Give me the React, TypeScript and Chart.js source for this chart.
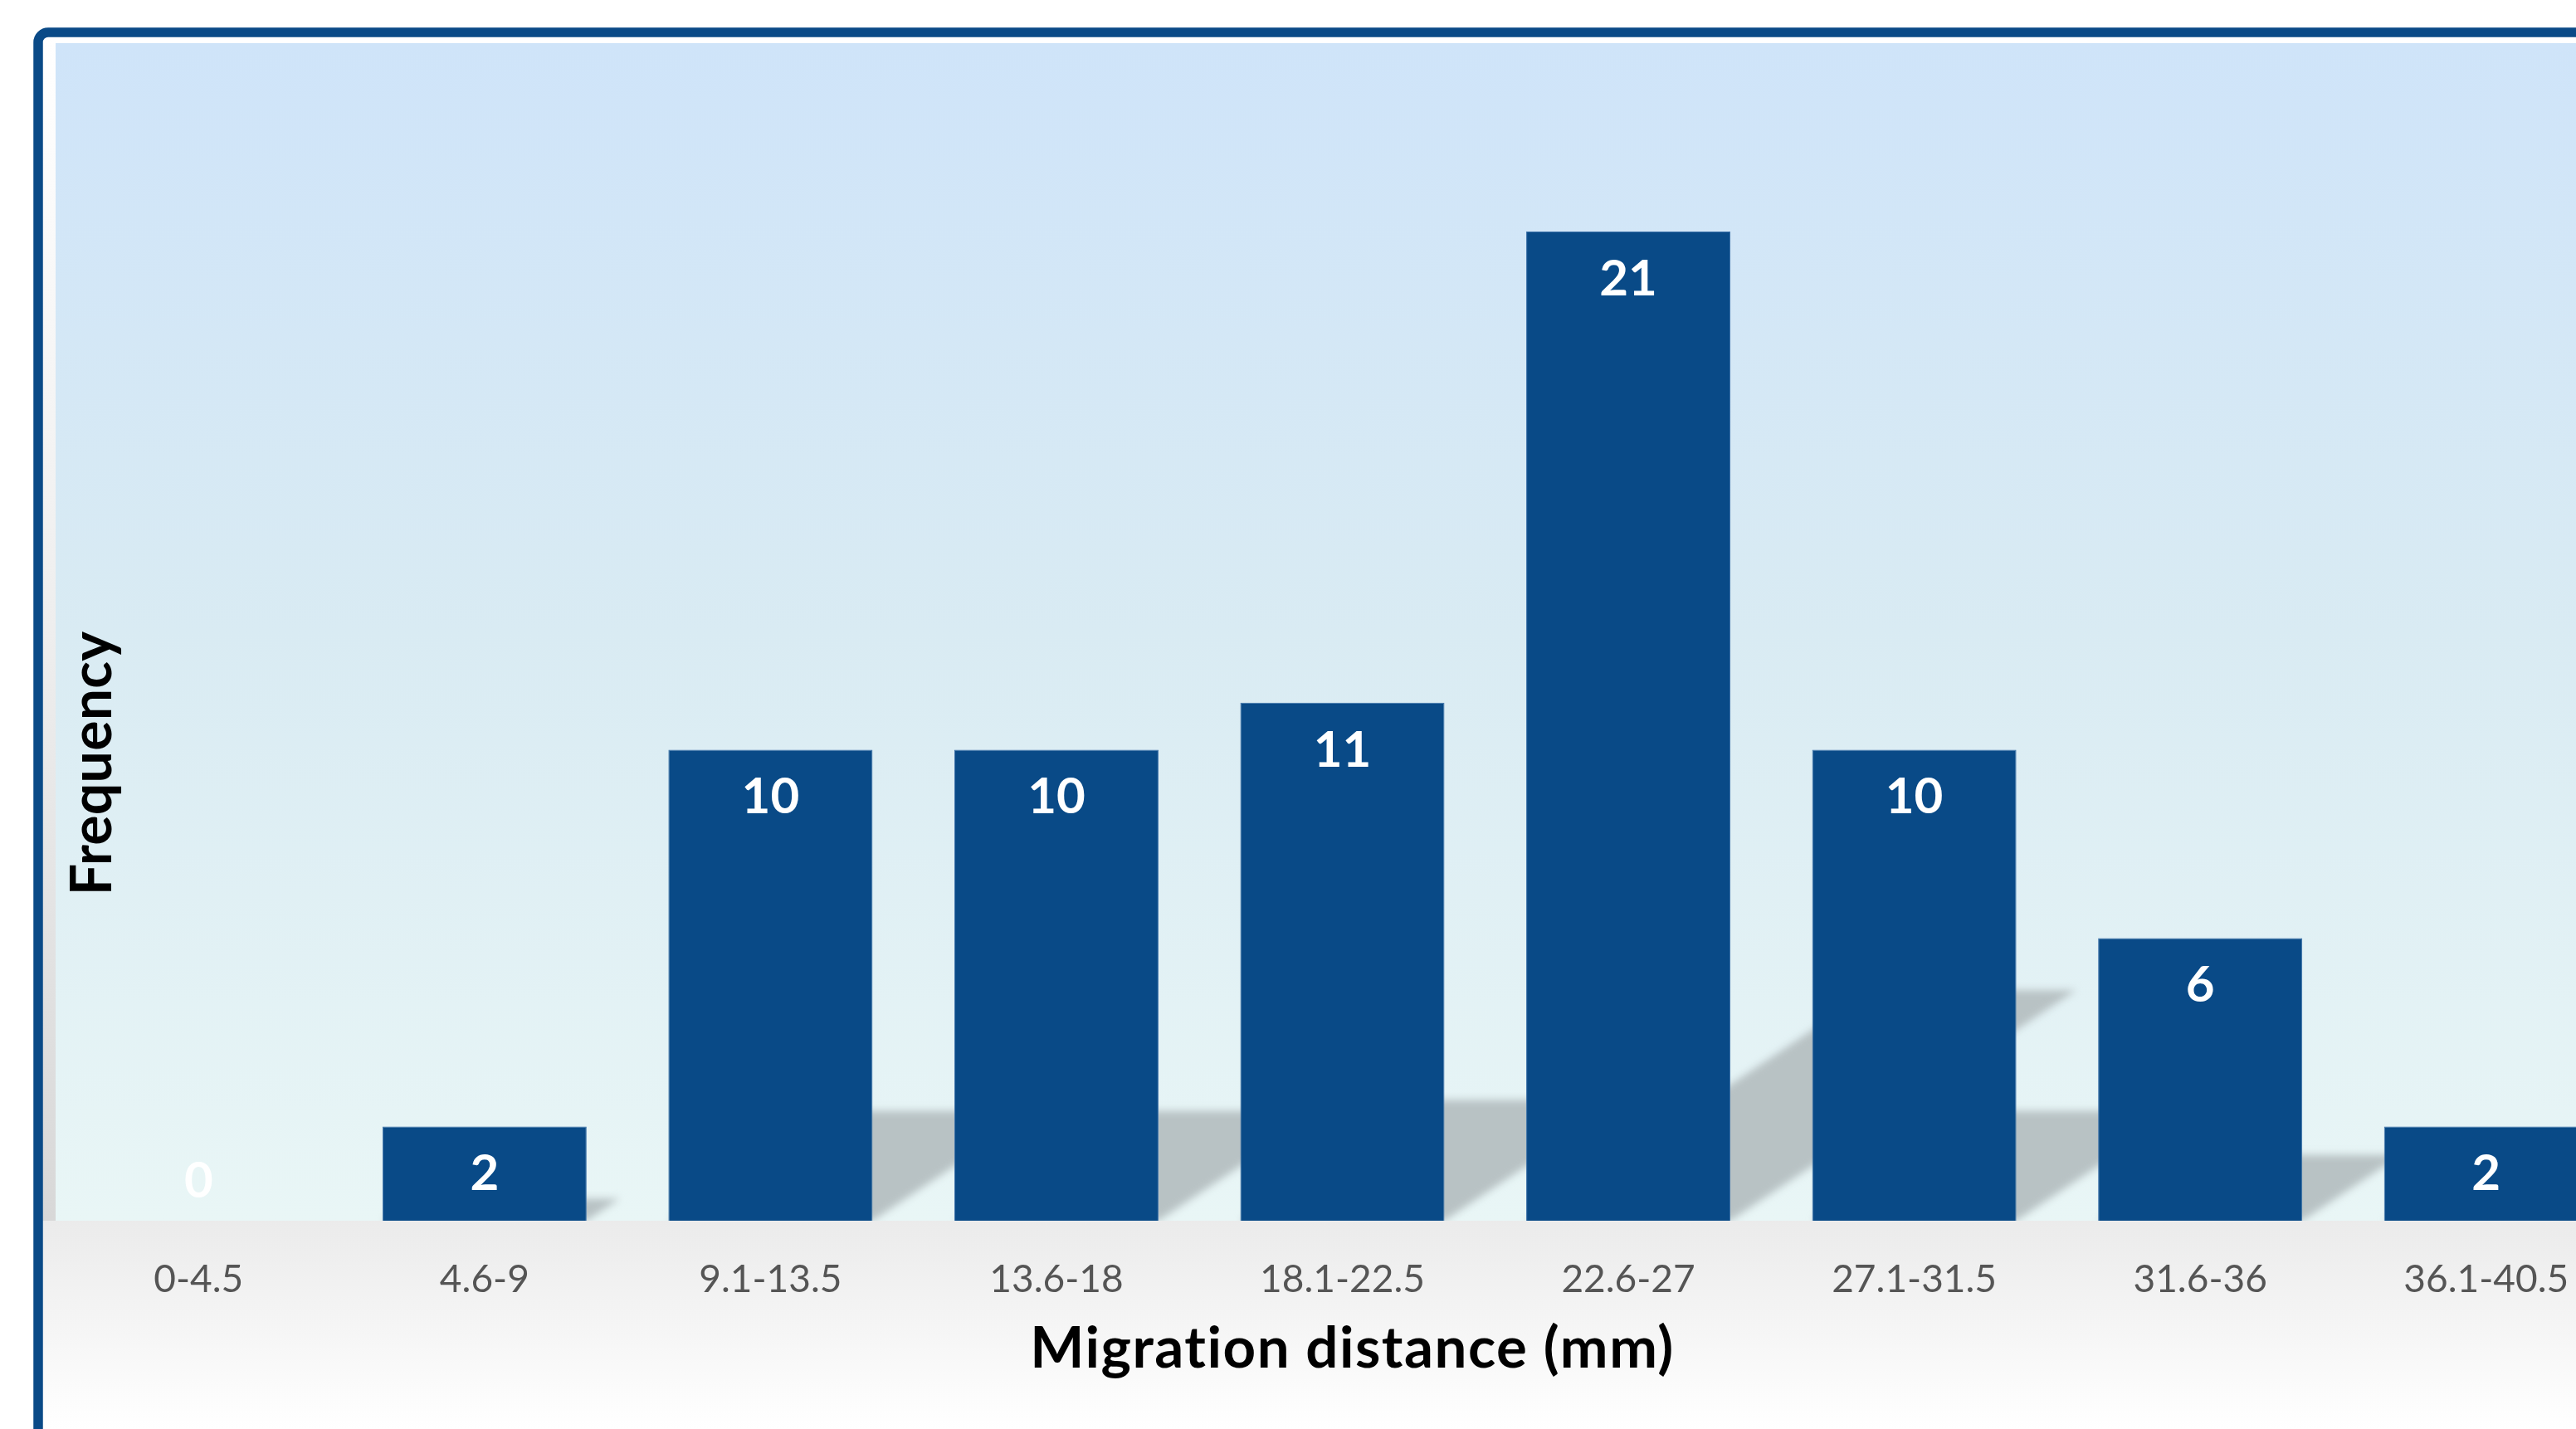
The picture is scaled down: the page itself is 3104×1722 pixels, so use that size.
import React, { useEffect, useRef } from "react";
import { Chart, registerables } from "chart.js";

Chart.register(...registerables);

// ---- data ----
const categories = ["0-4.5", "4.6-9", "9.1-13.5", "13.6-18", "18.1-22.5", "22.6-27", "27.1-31.5", "31.6-36", "36.1-40.5"];
const frequencies = [0, 2, 10, 10, 11, 21, 10, 6, 2];
const xAxisTitle = "Migration distance (mm)";
const yAxisTitle = "Frequency";
const yRange = [0, 25];

// ---- layout / style ----
const CANVAS_W = 3200;
const CANVAS_H = 1722;
const PLOT_LEFT = 67;
const PLOT_TOP = 52;
const PLOT_RIGHT = 3168;
const PLOT_BOTTOM = 1471;
const BAR_COLOR = "#094a87";
const FRAME_COLOR = "#0a4a87";
const FONT = "Lato, 'Open Sans', sans-serif";

const backgroundPlugin = {
  id: "bgPlugin",
  beforeDraw(chart: any) {
    const { ctx, chartArea, width, height } = chart;
    ctx.save();
    ctx.fillStyle = "#ffffff";
    ctx.fillRect(0, 0, width, height);
    // left strip gradient
    const gl = ctx.createLinearGradient(0, 44, 0, chartArea.bottom);
    gl.addColorStop(0, "#ffffff");
    gl.addColorStop(0.5, "#eeeeee");
    gl.addColorStop(1, "#d8d8d8");
    ctx.fillStyle = gl;
    ctx.fillRect(51, 44, chartArea.left - 51, chartArea.bottom - 44);
    // bottom gradient
    const gb = ctx.createLinearGradient(0, chartArea.bottom, 0, height);
    gb.addColorStop(0, "#ebebeb");
    gb.addColorStop(0.6, "#f7f7f7");
    gb.addColorStop(1, "#ffffff");
    ctx.fillStyle = gb;
    ctx.fillRect(51, chartArea.bottom, width, height - chartArea.bottom);
    // plot area gradient
    const gp = ctx.createLinearGradient(0, chartArea.top, 0, chartArea.bottom);
    gp.addColorStop(0, "#cfe4f9");
    gp.addColorStop(0.5, "#d9ebf3");
    gp.addColorStop(1, "#e9f6f6");
    ctx.fillStyle = gp;
    ctx.fillRect(chartArea.left, chartArea.top, chartArea.right - chartArea.left, chartArea.bottom - chartArea.top);
    ctx.restore();
  },
};

const shadowPlugin = {
  id: "shadowPlugin",
  beforeDatasetsDraw(chart: any) {
    const { ctx, chartArea } = chart;
    const meta = chart.getDatasetMeta(0);
    ctx.save();
    ctx.beginPath();
    ctx.rect(chartArea.left, chartArea.top, chartArea.right - chartArea.left, chartArea.bottom - chartArea.top);
    ctx.clip();
    ctx.filter = "blur(5px)";
    ctx.fillStyle = "#b8c2c4";
    meta.data.forEach((bar: any) => {
      const { x, y, base, width } = bar.getProps(["x", "y", "base", "width"], true);
      const H = base - y;
      if (H <= 0) return;
      const h = 0.233 * H;
      const s = 1.5 * h;
      const L = x - width / 2;
      const R = x + width / 2;
      ctx.beginPath();
      ctx.moveTo(L, base);
      ctx.lineTo(R, base);
      ctx.lineTo(R + s, base - h);
      ctx.lineTo(L + s, base - h);
      ctx.closePath();
      ctx.fill();
    });
    ctx.restore();
  },
};

const textPlugin = {
  id: "textPlugin",
  afterDatasetsDraw(chart: any) {
    const { ctx, chartArea, scales } = chart;
    const meta = chart.getDatasetMeta(0);
    ctx.save();
    // data labels
    ctx.fillStyle = "#ffffff";
    ctx.font = `bold 60px ${FONT}`;
    ctx.textAlign = "center";
    ctx.textBaseline = "alphabetic";
    meta.data.forEach((bar: any, i: number) => {
      const { x, y, base } = bar.getProps(["x", "y", "base"], true);
      const by = Math.min(y + 77, base - 28);
      ctx.fillText(String(frequencies[i]), x, by);
    });
    // x tick labels
    ctx.fillStyle = "#555555";
    ctx.font = `46px ${FONT}`;
    categories.forEach((c, i) => {
      const x = scales.x.getPixelForValue(i);
      ctx.fillText(c, x, chartArea.bottom + 86);
    });
    // x axis title
    ctx.fillStyle = "#000000";
    ctx.font = `bold 69px ${FONT}`;
    (ctx as any).letterSpacing = "1.5px";
    ctx.fillText(xAxisTitle, (chartArea.left + chartArea.right) / 2 + 12, chartArea.bottom + 177);
    // y axis title
    (ctx as any).letterSpacing = "0.2px";
    ctx.font = `bold 68px ${FONT}`;
    ctx.save();
    ctx.translate(134, 920);
    ctx.rotate(-Math.PI / 2);
    ctx.fillText(yAxisTitle, 0, 0);
    ctx.restore();
    ctx.restore();
  },
  afterDraw(chart: any) {
    const { ctx } = chart;
    ctx.save();
    ctx.strokeStyle = FRAME_COLOR;
    ctx.lineWidth = 11.5;
    ctx.beginPath();
    (ctx as any).roundRect(46, 39, 6000, 6000, 12);
    ctx.stroke();
    ctx.restore();
  },
};

export default function App() {
  const ref = useRef<HTMLCanvasElement | null>(null);

  useEffect(() => {
    if (!ref.current) return;
    const chart = new Chart(ref.current, {
      type: "bar",
      data: {
        labels: categories,
        datasets: [
          {
            label: yAxisTitle,
            data: frequencies,
            backgroundColor: BAR_COLOR,
            borderColor: "#3d72aa",
            borderWidth: 1,
            categoryPercentage: 1,
            barPercentage: 0.714,
          },
        ],
      },
      options: {
        animation: false,
        responsive: false,
        maintainAspectRatio: false,
        devicePixelRatio: 1,
        events: [],
        layout: {
          padding: {
            left: PLOT_LEFT,
            top: PLOT_TOP,
            right: CANVAS_W - PLOT_RIGHT,
            bottom: CANVAS_H - PLOT_BOTTOM,
          },
        },
        plugins: {
          legend: { display: false },
          tooltip: { enabled: false },
          title: { display: false },
        },
        scales: {
          x: { type: "category", display: false, offset: true, grid: { display: false } },
          y: { display: false, min: yRange[0], max: yRange[1], grid: { display: false } },
        },
      },
      plugins: [backgroundPlugin, shadowPlugin, textPlugin],
    });
    return () => chart.destroy();
  }, []);

  return (
    <div
      style={{
        position: "fixed",
        left: 0,
        top: 0,
        width: 3104,
        height: 1722,
        overflow: "hidden",
        background: "#ffffff",
      }}
    >
      <canvas ref={ref} width={CANVAS_W} height={CANVAS_H} style={{ width: CANVAS_W, height: CANVAS_H, display: "block" }} />
    </div>
  );
}
